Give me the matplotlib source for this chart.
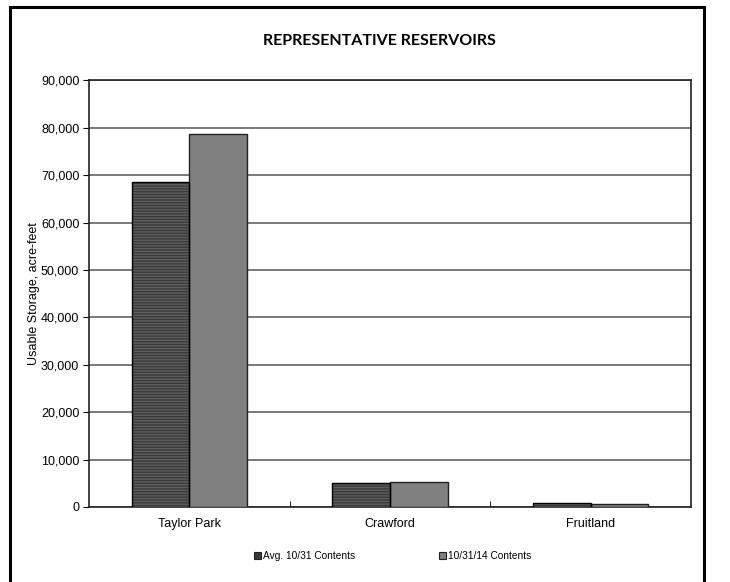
import numpy as np
import matplotlib
matplotlib.use('Agg')
import matplotlib.pyplot as plt
from matplotlib.patches import Rectangle
from matplotlib.ticker import FuncFormatter

reservoirs = ['Taylor Park', 'Crawford', 'Fruitland']
avg_contents = [68600, 5000, 780]
current_contents = [78600, 5200, 630]
series_names = ['Avg. 10/31 Contents', '10/31/14 Contents']

plt.rcParams['font.family'] = ['Liberation Sans', 'DejaVu Sans']

fig = plt.figure(figsize=(7.3, 5.82), dpi=100)
ax = fig.add_axes([0.1219, 0.1289, 0.8247, 0.733])

x = np.arange(len(reservoirs))
w = 0.287

# dark bars with horizontal stripes, outlines drawn on top
ax.bar(x - w/2, avg_contents, w, color='#3a3a3a', edgecolor='#5e5e5e',
       hatch='------', lw=0, zorder=3)
ax.bar(x - w/2, avg_contents, w, fill=False, edgecolor='black', lw=1, zorder=4)
ax.bar(x + w/2, current_contents, w, color='#808080', edgecolor='#222222',
       lw=1, zorder=3)

ax.set_xlim(-0.5, 2.5)
ax.set_ylim(0, 90000)
ax.set_yticks(np.arange(0, 90001, 10000))
ax.yaxis.set_major_formatter(FuncFormatter(lambda v, p: f'{int(v):,}'))
ax.set_xticks(x)
ax.set_xticklabels(reservoirs)
ax.set_xticks([0.5, 1.5], minor=True)
ax.tick_params(axis='x', which='major', length=0, labelsize=9, pad=8)
ax.tick_params(axis='x', which='minor', length=4, direction='in')
ax.tick_params(axis='y', length=4, labelsize=9, pad=3)
ax.grid(axis='y', color='#6e6e6e', lw=1.3, zorder=0)
for s in ax.spines.values():
    s.set_color('#222222')
    s.set_linewidth(1.2)
ax.set_ylabel('Usable Storage, acre-feet', fontsize=9, labelpad=1)

fig.text(379/730, 1 - 41/582, 'REPRESENTATIVE RESERVOIRS', ha='center',
         va='center', fontsize=11.5, fontweight='bold', family=['Lato', 'DejaVu Sans'])

handles = [Rectangle((0, 0), 1, 1, facecolor='#3a3a3a', edgecolor='#222222', lw=0.8),
           Rectangle((0, 0), 1, 1, facecolor='#808080', edgecolor='#222222', lw=0.8)]
fig.legend(handles, series_names, loc='center', bbox_to_anchor=(0.538, 0.045),
           ncol=2, frameon=False, fontsize=7.3, handlelength=0.7, handleheight=0.7,
           handletextpad=0.2, columnspacing=8.3)

fig.patches.append(Rectangle((10/730, -0.02), (704 - 10)/730, 1 - 7/582 + 0.02,
                             transform=fig.transFigure, fill=False,
                             edgecolor='black', lw=2.2))

fig.savefig('out.png', dpi=100)
